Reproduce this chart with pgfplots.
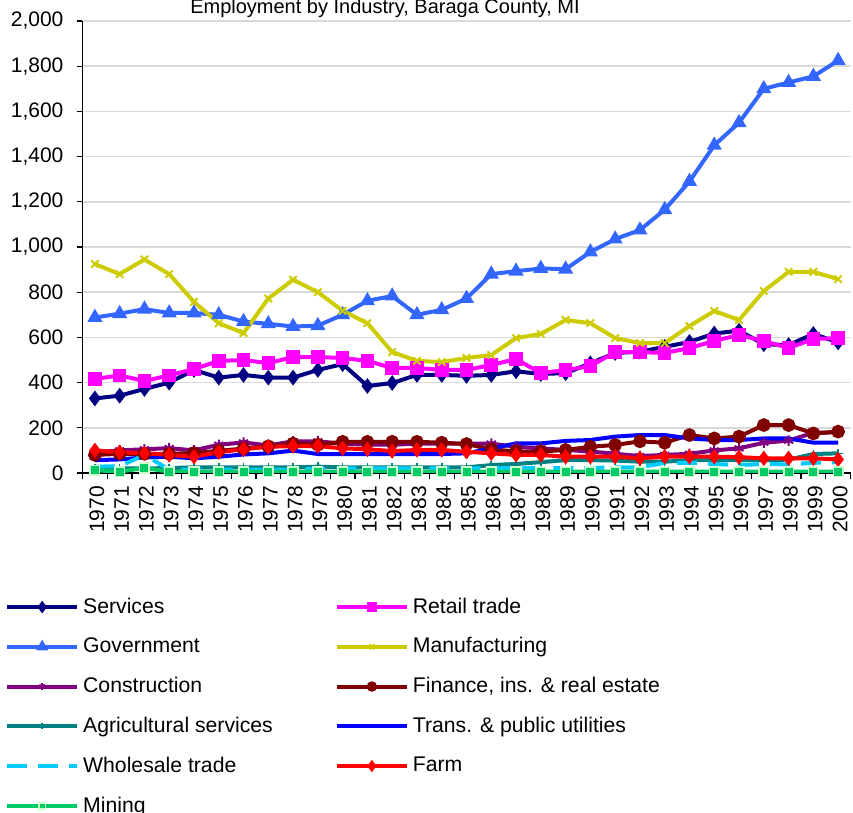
\documentclass[border=0pt]{standalone}
\usepackage{pgfplots}
\usepackage{pgfplotstable}
\pgfplotsset{compat=1.18}
\usepackage{fontspec}
\setmainfont{Liberation Sans}

\definecolor{cServ}{RGB}{0,0,128}
\definecolor{cRetail}{RGB}{255,0,255}
\definecolor{cGov}{RGB}{51,102,255}
\definecolor{cManuf}{RGB}{204,204,0}
\definecolor{cConstr}{RGB}{128,0,128}
\definecolor{cFin}{RGB}{128,0,0}
\definecolor{cAg}{RGB}{0,128,128}
\definecolor{cTrans}{RGB}{0,0,255}
\definecolor{cWhole}{RGB}{0,204,255}
\definecolor{cFarm}{RGB}{255,0,0}
\definecolor{cMining}{RGB}{0,204,102}
\definecolor{cMiningEdge}{RGB}{204,255,204}

\pgfplotstableread{
year serv retail gov  manuf constr fin ag trans whole farm mining
1970 330  416  688  925  90  80  20  57  28  100 12
1971 342  432  705  880  100 85  20  60  30  92  6
1972 372  407  725  945  105 85  20  69  80  87  22
1973 400  432  708  880  110 85  22  72  15  80  6
1974 456  460  708  757  100 88  25  65  15  72  6
1975 422  496  700  663  125 98  25  72  15  92  6
1976 434  500  670  619  135 108 25  82  15  105 6
1977 422  486  660  772  122 118 25  87  15  116 6
1978 422  513  648  855  140 130 25  99  15  119 6
1979 456  513  652  800  140 125 28  84  18  119 6
1980 482  509  700  718  130 138 25  84  20  109 6
1981 385  496  762  663  125 138 25  84  20  105 6
1982 398  465  783  535  125 138 25  84  20  97  6
1983 434  465  700  496  130 138 25  84  20  102 6
1984 434  456  722  491  130 134 25  84  20  102 6
1985 430  456  772  509  130 128 25  87  20  94  6
1986 434  478  880  522  130 105 35  109 22  87  6
1987 450  504  893  597  116 95  40  131 22  80  6
1988 438  442  905  615  109 95  48  131 22  80  6
1989 442  456  902  677  102 102 57  142 22  72  6
1990 485  473  978  663  95  116 57  146 22  72  6
1991 531  535  1035 597  85  124 55  161 25  72  6
1992 537  535  1075 575  75  140 50  168 25  65  6
1993 558  531  1165 575  80  134 50  168 45  72  6
1994 580  553  1290 650  85  168 57  153 45  72  6
1995 617  584  1450 717  100 153 58  146 40  72  6
1996 630  611  1550 677  109 161 57  146 35  70  6
1997 570  584  1700 805  134 212 57  153 40  65  6
1998 566  553  1728 890  143 212 59  153 38  65  6
1999 615  593  1755 890  178 175 84  134 45  65  6
2000 578  597  1825 858  180 183 87  134 48  60  6
}\data

\begin{document}
\begin{tikzpicture}
\begin{axis}[
    at={(0,0)}, anchor=south west,
    scale only axis,
    width=384pt, height=226pt,
    xmin=1969.5, xmax=2000.5,
    ymin=0, ymax=2000,
    axis x line*=bottom, axis y line*=left,
    axis line style={black, line width=0.6pt},
    xtick={1970,...,2000},
    minor xtick={1969.5,1970.5,...,2000.5},
    ytick={0,200,...,2000},
    ymajorgrids=true,
    grid style={draw=gray!30, line width=0.8pt},
    tick align=outside,
    major tick length=3pt,
    minor tick length=3pt,
    tick style={black, line width=0.6pt},
    major x tick style={draw=none},
    /pgf/number format/assume math mode=true,
    x tick label style={rotate=90, anchor=east, font=\fontsize{10.5}{12}\selectfont,
        /pgf/number format/1000 sep={}, yshift=-1pt},
    y tick label style={font=\fontsize{10.5}{12}\selectfont, xshift=-3pt,
        /pgf/number format/1000 sep={,}},
    every axis plot/.append style={line width=2pt},
    legend columns=2,
    legend cell align=left,
    legend style={at={(-0.109,-0.2576)}, anchor=north west, draw=none, fill=none,
        font=\fontsize{10.6}{12}\selectfont, row sep=6.7pt,
        /tikz/every even column/.append style={column sep=29pt}},
    legend image code/.code={
        \draw[mark repeat=2, mark phase=2, every mark/.append style={scale=0.65}]
            plot coordinates {(0pt,0pt) (17.5pt,0pt) (35pt,0pt)};
    },
]
\addplot[cServ, mark=diamond*, mark size=2.3pt] table[x=year, y=serv] {\data};
\addlegendentry{Services}
\addplot[cRetail, mark=square*, mark size=2.4pt] table[x=year, y=retail] {\data};
\addlegendentry{Retail trade}
\addplot[cGov, mark=triangle*, mark size=2.4pt] table[x=year, y=gov] {\data};
\addlegendentry{Government}
\addplot[cManuf, mark=x, mark size=2.6pt, mark options={line width=1pt}] table[x=year, y=manuf] {\data};
\addlegendentry{Manufacturing}
\addplot[cConstr, mark=asterisk, mark size=2.6pt, mark options={line width=1pt}] table[x=year, y=constr] {\data};
\addlegendentry{Construction}
\addplot[cFin, mark=*, mark size=2.4pt] table[x=year, y=fin] {\data};
\addlegendentry{Finance, ins. \& real estate}
\addplot[cAg, mark=+, mark size=2.2pt, mark options={line width=0.8pt}] table[x=year, y=ag] {\data};
\addlegendentry{Agricultural services}
\addplot[cTrans, no marks] table[x=year, y=trans] {\data};
\addlegendentry{Trans. \& public utilities}
\addplot[cWhole, no marks, dash pattern=on 10pt off 5.5pt] table[x=year, y=whole] {\data};
\addlegendentry{Wholesale trade}
\addplot[cFarm, mark=diamond*, mark size=2.2pt] table[x=year, y=farm] {\data};
\addlegendentry{Farm}
\addplot[cMining, mark=square*, mark size=2.4pt,
    mark options={fill=cMining, draw=cMiningEdge, line width=0.8pt}] table[x=year, y=mining] {\data};
\addlegendentry{Mining}
\end{axis}
\node[font=\fontsize{10}{12}\selectfont, anchor=base] at (151.25pt,229.5pt)
    {Employment by Industry, Baraga County, MI};
\pgfresetboundingbox
\useasboundingbox (-41.25pt,-170pt) rectangle (385.25pt,236.5pt);
\end{tikzpicture}
\end{document}
